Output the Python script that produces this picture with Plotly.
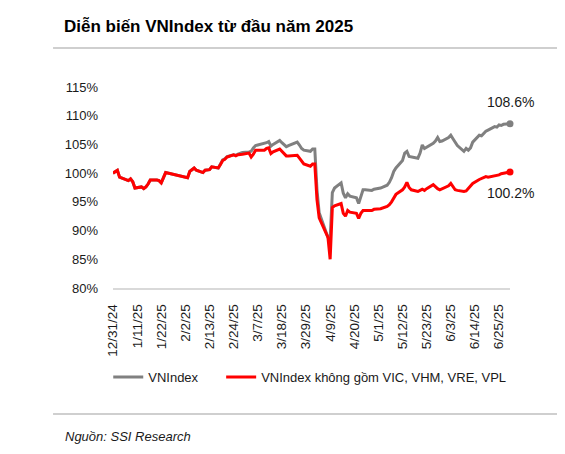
import plotly.graph_objects as go

# Du lieu doc tu bieu do (% so voi 31/12/2024)
dates = [
    '2024-12-31', '2025-01-02', '2025-01-03', '2025-01-06', '2025-01-07', '2025-01-08', '2025-01-09',
    '2025-01-10', '2025-01-13', '2025-01-14', '2025-01-15', '2025-01-16', '2025-01-17', '2025-01-20',
    '2025-01-21', '2025-01-22', '2025-01-23', '2025-01-24', '2025-02-03', '2025-02-04', '2025-02-05',
    '2025-02-06', '2025-02-07', '2025-02-10', '2025-02-11', '2025-02-12', '2025-02-13', '2025-02-14',
    '2025-02-17', '2025-02-18', '2025-02-19', '2025-02-20', '2025-02-21', '2025-02-24', '2025-02-25',
    '2025-02-26', '2025-02-27', '2025-02-28', '2025-03-03', '2025-03-04', '2025-03-05', '2025-03-06',
    '2025-03-07', '2025-03-10', '2025-03-11', '2025-03-12', '2025-03-13', '2025-03-14', '2025-03-17',
    '2025-03-18', '2025-03-19', '2025-03-20', '2025-03-21', '2025-03-24', '2025-03-25', '2025-03-26',
    '2025-03-27', '2025-03-28', '2025-03-31', '2025-04-01', '2025-04-02', '2025-04-03', '2025-04-04',
    '2025-04-08', '2025-04-09', '2025-04-10', '2025-04-11', '2025-04-14', '2025-04-15', '2025-04-16',
    '2025-04-17', '2025-04-18', '2025-04-21', '2025-04-22', '2025-04-23', '2025-04-24', '2025-04-25',
    '2025-04-28', '2025-04-29', '2025-05-02', '2025-05-05', '2025-05-06', '2025-05-07', '2025-05-08',
    '2025-05-09', '2025-05-12', '2025-05-13', '2025-05-14', '2025-05-15', '2025-05-16', '2025-05-19',
    '2025-05-20', '2025-05-21', '2025-05-22', '2025-05-23', '2025-05-26', '2025-05-27', '2025-05-28',
    '2025-05-29', '2025-05-30', '2025-06-02', '2025-06-03', '2025-06-04', '2025-06-05', '2025-06-06',
    '2025-06-09', '2025-06-10', '2025-06-11', '2025-06-12', '2025-06-13', '2025-06-16', '2025-06-17',
    '2025-06-18', '2025-06-19', '2025-06-20', '2025-06-23', '2025-06-24', '2025-06-25', '2025-06-26',
    '2025-06-27', '2025-06-30',
]

vnindex = [
    100.0, 100.5, 99.3, 98.8, 98.7, 99.0, 98.5,
    97.4, 97.6, 97.3, 97.6, 98.1, 98.8, 98.8,
    98.7, 98.3, 99.4, 100.1, 99.2, 100.3, 100.6,
    100.9, 100.5, 100.1, 100.5, 100.6, 100.6, 101.1,
    100.9, 101.6, 102.3, 102.5, 102.9, 103.2, 103.1,
    103.3, 103.4, 103.6, 103.7, 103.8, 104.4, 104.8,
    104.9, 105.1, 105.3, 105.5, 104.7, 105.0, 105.7,
    105.3, 104.9, 104.6, 104.8, 105.2, 105.4, 104.9,
    104.3, 104.0, 103.8, 104.2, 104.2, 97.1, 93.1,
    88.8, 88.5, 96.6, 97.4, 98.3, 96.5, 95.7,
    96.4, 96.0, 95.7, 94.7, 96.0, 97.1, 97.1,
    97.0, 97.2, 97.4, 97.9, 98.4, 99.2, 100.3,
    100.9, 102.2, 103.5, 103.8, 102.9, 102.8, 102.6,
    103.5, 104.9, 104.3, 104.5, 105.2, 105.6, 106.2,
    105.5, 105.6, 106.2, 106.6, 106.0, 105.5, 104.8,
    103.8, 104.3, 104.0, 104.4, 105.4, 106.6, 106.5,
    106.9, 107.3, 107.5, 108.1, 108.0, 108.4, 108.3,
    108.5, 108.6,
]

vnindex_ex = [
    100.0, 100.5, 99.3, 98.8, 98.7, 99.0, 98.5,
    97.4, 97.6, 97.3, 97.6, 98.1, 98.8, 98.8,
    98.7, 98.3, 99.4, 100.1, 99.2, 100.3, 100.6,
    100.9, 100.5, 100.1, 100.5, 100.6, 100.6, 101.1,
    100.9, 101.5, 102.2, 102.4, 102.8, 103.2, 103.0,
    103.2, 103.2, 103.3, 103.5, 102.8, 103.3, 104.0,
    104.0, 104.0, 104.3, 104.4, 103.4, 103.7, 104.2,
    103.8, 103.4, 103.0, 103.0, 103.0, 103.1, 102.6,
    102.0, 101.6, 101.2, 101.6, 101.6, 95.4, 92.2,
    88.8, 85.0, 94.0, 94.3, 94.7, 93.0, 92.5,
    93.5, 93.2, 93.0, 92.1, 93.0, 93.5, 93.5,
    93.5, 93.7, 93.8, 94.2, 94.5, 95.0, 95.7,
    96.3, 97.1, 97.6, 98.4, 97.5, 97.1, 96.8,
    97.0, 97.2, 97.0, 97.3, 98.0, 97.6, 97.3,
    97.1, 97.3, 97.8, 98.2, 97.6, 97.1, 97.0,
    96.8, 96.9, 97.3, 97.8, 98.2, 98.9, 99.1,
    99.3, 99.4, 99.3, 99.5, 99.6, 99.7, 99.9,
    100.0, 100.2,
]

tick_dates = ['2024-12-31', '2025-01-11', '2025-01-22', '2025-02-02', '2025-02-13', '2025-02-24',
              '2025-03-07', '2025-03-18', '2025-03-29', '2025-04-09', '2025-04-20', '2025-05-01',
              '2025-05-12', '2025-05-23', '2025-06-03', '2025-06-14', '2025-06-25']
tick_labels = ['12/31/24', '1/11/25', '1/22/25', '2/2/25', '2/13/25', '2/24/25', '3/7/25', '3/18/25',
               '3/29/25', '4/9/25', '4/20/25', '5/1/25', '5/12/25', '5/23/25', '6/3/25', '6/14/25',
               '6/25/25']

y_ticks = [80, 85, 90, 95, 100, 105, 110, 115]

name1 = 'VNIndex'
name2 = 'VNIndex không gồm VIC, VHM, VRE, VPL'
title = 'Diễn biến VNIndex từ đầu năm 2025'
source = 'Nguồn: SSI Research'

FONT = 'Liberation Sans, Arial, sans-serif'
GRAY = '#808080'
RED = '#ff0000'
TXT = '#1a1a1a'

fig = go.Figure()
# them khoang trong sau ten de gian cach chu thich
fig.add_trace(go.Scatter(x=dates, y=vnindex, mode='lines', name=name1 + '\u00a0' * 5,
                         line=dict(color=GRAY, width=3)))
fig.add_trace(go.Scatter(x=dates, y=vnindex_ex, mode='lines', name=name2,
                         line=dict(color=RED, width=3)))
# cham cuoi
fig.add_trace(go.Scatter(x=[dates[-1]], y=[vnindex[-1]], mode='markers', showlegend=False,
                         marker=dict(color=GRAY, size=7), cliponaxis=False))
fig.add_trace(go.Scatter(x=[dates[-1]], y=[vnindex_ex[-1]], mode='markers', showlegend=False,
                         marker=dict(color=RED, size=7), cliponaxis=False))

# nhan gia tri cuoi
fig.add_annotation(x=dates[-1], y=vnindex[-1], text=f'{vnindex[-1]:.1f}%', showarrow=False,
                   xanchor='center', yshift=22, font=dict(size=14, color=TXT, family=FONT))
fig.add_annotation(x=dates[-1], y=vnindex_ex[-1], text=f'{vnindex_ex[-1]:.1f}%', showarrow=False,
                   xanchor='center', yshift=-21, font=dict(size=14, color=TXT, family=FONT))

# tieu de, nguon
fig.add_annotation(xref='paper', yref='paper', x=-0.128, y=1.303, xanchor='left', yanchor='middle',
                   text=f'<b>{title}</b>', showarrow=False,
                   font=dict(size=17, color='#000000', family=FONT))
fig.add_annotation(xref='paper', yref='paper', x=-0.126, y=-0.74, xanchor='left', yanchor='middle',
                   text=f'<i>{source}</i>', showarrow=False,
                   font=dict(size=13, color=TXT, family=FONT))
fig.add_shape(type='line', xref='paper', yref='paper', x0=-0.151, x1=1.14, y0=1.194, y1=1.194,
              line=dict(color='#bfbfbf', width=1.5))
fig.add_shape(type='line', xref='paper', yref='paper', x0=-0.151, x1=1.14, y0=-0.627, y1=-0.627,
              line=dict(color='#bfbfbf', width=1.5))

# trang co le 8px quanh body -> giam kich thuoc hinh cho vua cua so
fig.update_layout(
    width=557, height=446,
    margin=dict(l=105, r=55, t=79, b=166),
    paper_bgcolor='white', plot_bgcolor='white',
    font=dict(family=FONT, size=13, color=TXT),
    showlegend=True,
    legend=dict(orientation='h', x=-0.012, y=-0.443, xanchor='left', yanchor='middle',
                font=dict(size=13, family=FONT), itemwidth=30, tracegroupgap=0),
)
fig.update_xaxes(type='date', range=[dates[0], dates[-1]], tickvals=tick_dates, ticktext=tick_labels,
                 tickangle=-90, showgrid=False, showline=True, linecolor='#d9d9d9', linewidth=1.5,
                 ticks='', ticklabelstandoff=9, tickfont=dict(size=13.5))
fig.update_yaxes(range=[80, 115], tickvals=y_ticks, ticktext=[f'{v}%' for v in y_ticks],
                 showgrid=False, zeroline=False, showline=False, ticks='', ticklabelstandoff=14,
                 tickfont=dict(size=13))

fig.write_html('out.html')
